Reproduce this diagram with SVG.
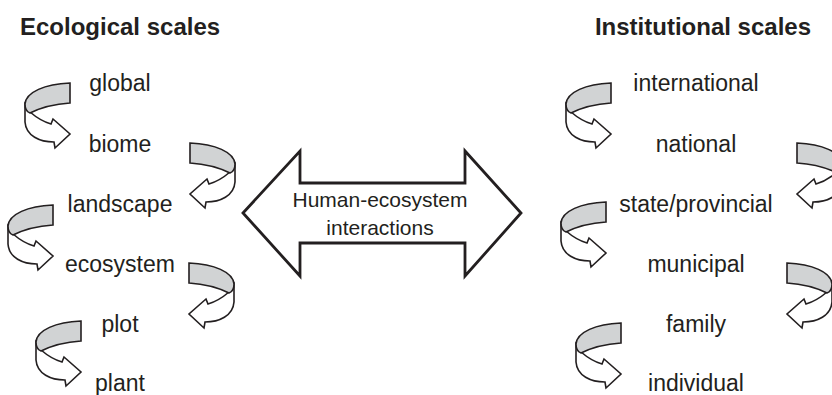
<svg xmlns="http://www.w3.org/2000/svg" width="832" height="395" viewBox="0 0 832 395">
<style>
.t{font-family:"Liberation Sans",Arial,sans-serif;fill:#231f20}
.title{font-size:24px;font-weight:bold}
.lbl{font-size:23px;text-anchor:middle}
.ctr{font-size:21px;text-anchor:middle}
.w{fill:#fff;stroke:#231f20;stroke-width:1.6;stroke-linejoin:miter}
.g{fill:#d1d3d4;stroke:#231f20;stroke-width:1.6;stroke-linejoin:miter}
.big{fill:#fff;stroke:#231f20;stroke-width:2.8;stroke-linejoin:miter}
</style>
<defs>
<g id="loop">
<path class="w" d="M -40,29 C -33,35 -26,39 -19,41 L -17,36 L 0,51 L -15,65 L -16,59 C -30,59 -44,53 -45,39 L -45,21 Z"/>
<path class="g" d="M 0,0 C -25,1 -44,9 -45,21 C -45,26 -43,29 -40,30 C -30,25 -15,21 0,20 Z"/>
</g>
</defs>
<rect width="832" height="395" fill="#fff"/>
<text class="t title" x="20" y="35">Ecological scales</text>
<text class="t title" x="811" y="35" text-anchor="end">Institutional scales</text>
<g id="eco-global"><text class="t lbl" x="120" y="91">global</text></g>
<g id="eco-biome"><text class="t lbl" x="120" y="152">biome</text></g>
<g id="eco-landscape"><text class="t lbl" x="120" y="212">landscape</text></g>
<g id="eco-ecosystem"><text class="t lbl" x="120" y="272">ecosystem</text></g>
<g id="eco-plot"><text class="t lbl" x="120" y="332">plot</text></g>
<g id="eco-plant"><text class="t lbl" x="120" y="391">plant</text></g>
<g id="inst-international"><text class="t lbl" x="696" y="91">international</text></g>
<g id="inst-national"><text class="t lbl" x="696" y="152">national</text></g>
<g id="inst-state"><text class="t lbl" x="696" y="212">state/provincial</text></g>
<g id="inst-municipal"><text class="t lbl" x="696" y="272">municipal</text></g>
<g id="inst-family"><text class="t lbl" x="696" y="332">family</text></g>
<g id="inst-individual"><text class="t lbl" x="696" y="391">individual</text></g>
<g id="interactions">
<polygon class="big" points="243,213 300,151 300,183 465,183 465,151 521,213 465,276 465,243 300,243 300,276"/>
<text class="t ctr" x="380" y="207">Human-ecosystem</text>
<text class="t ctr" x="380" y="235">interactions</text>
</g>
<g id="connectors">
<use href="#loop" transform="translate(70,83)"/>
<use href="#loop" transform="translate(190,143) scale(-1,1)"/>
<use href="#loop" transform="translate(53,205)"/>
<use href="#loop" transform="translate(189,263) scale(-1,1)"/>
<use href="#loop" transform="translate(81,321)"/>
<use href="#loop" transform="translate(611,83)"/>
<use href="#loop" transform="translate(797,143) scale(-1,1)"/>
<use href="#loop" transform="translate(606,202)"/>
<use href="#loop" transform="translate(787,263) scale(-1,1)"/>
<use href="#loop" transform="translate(621,323)"/>
</g>
</svg>
